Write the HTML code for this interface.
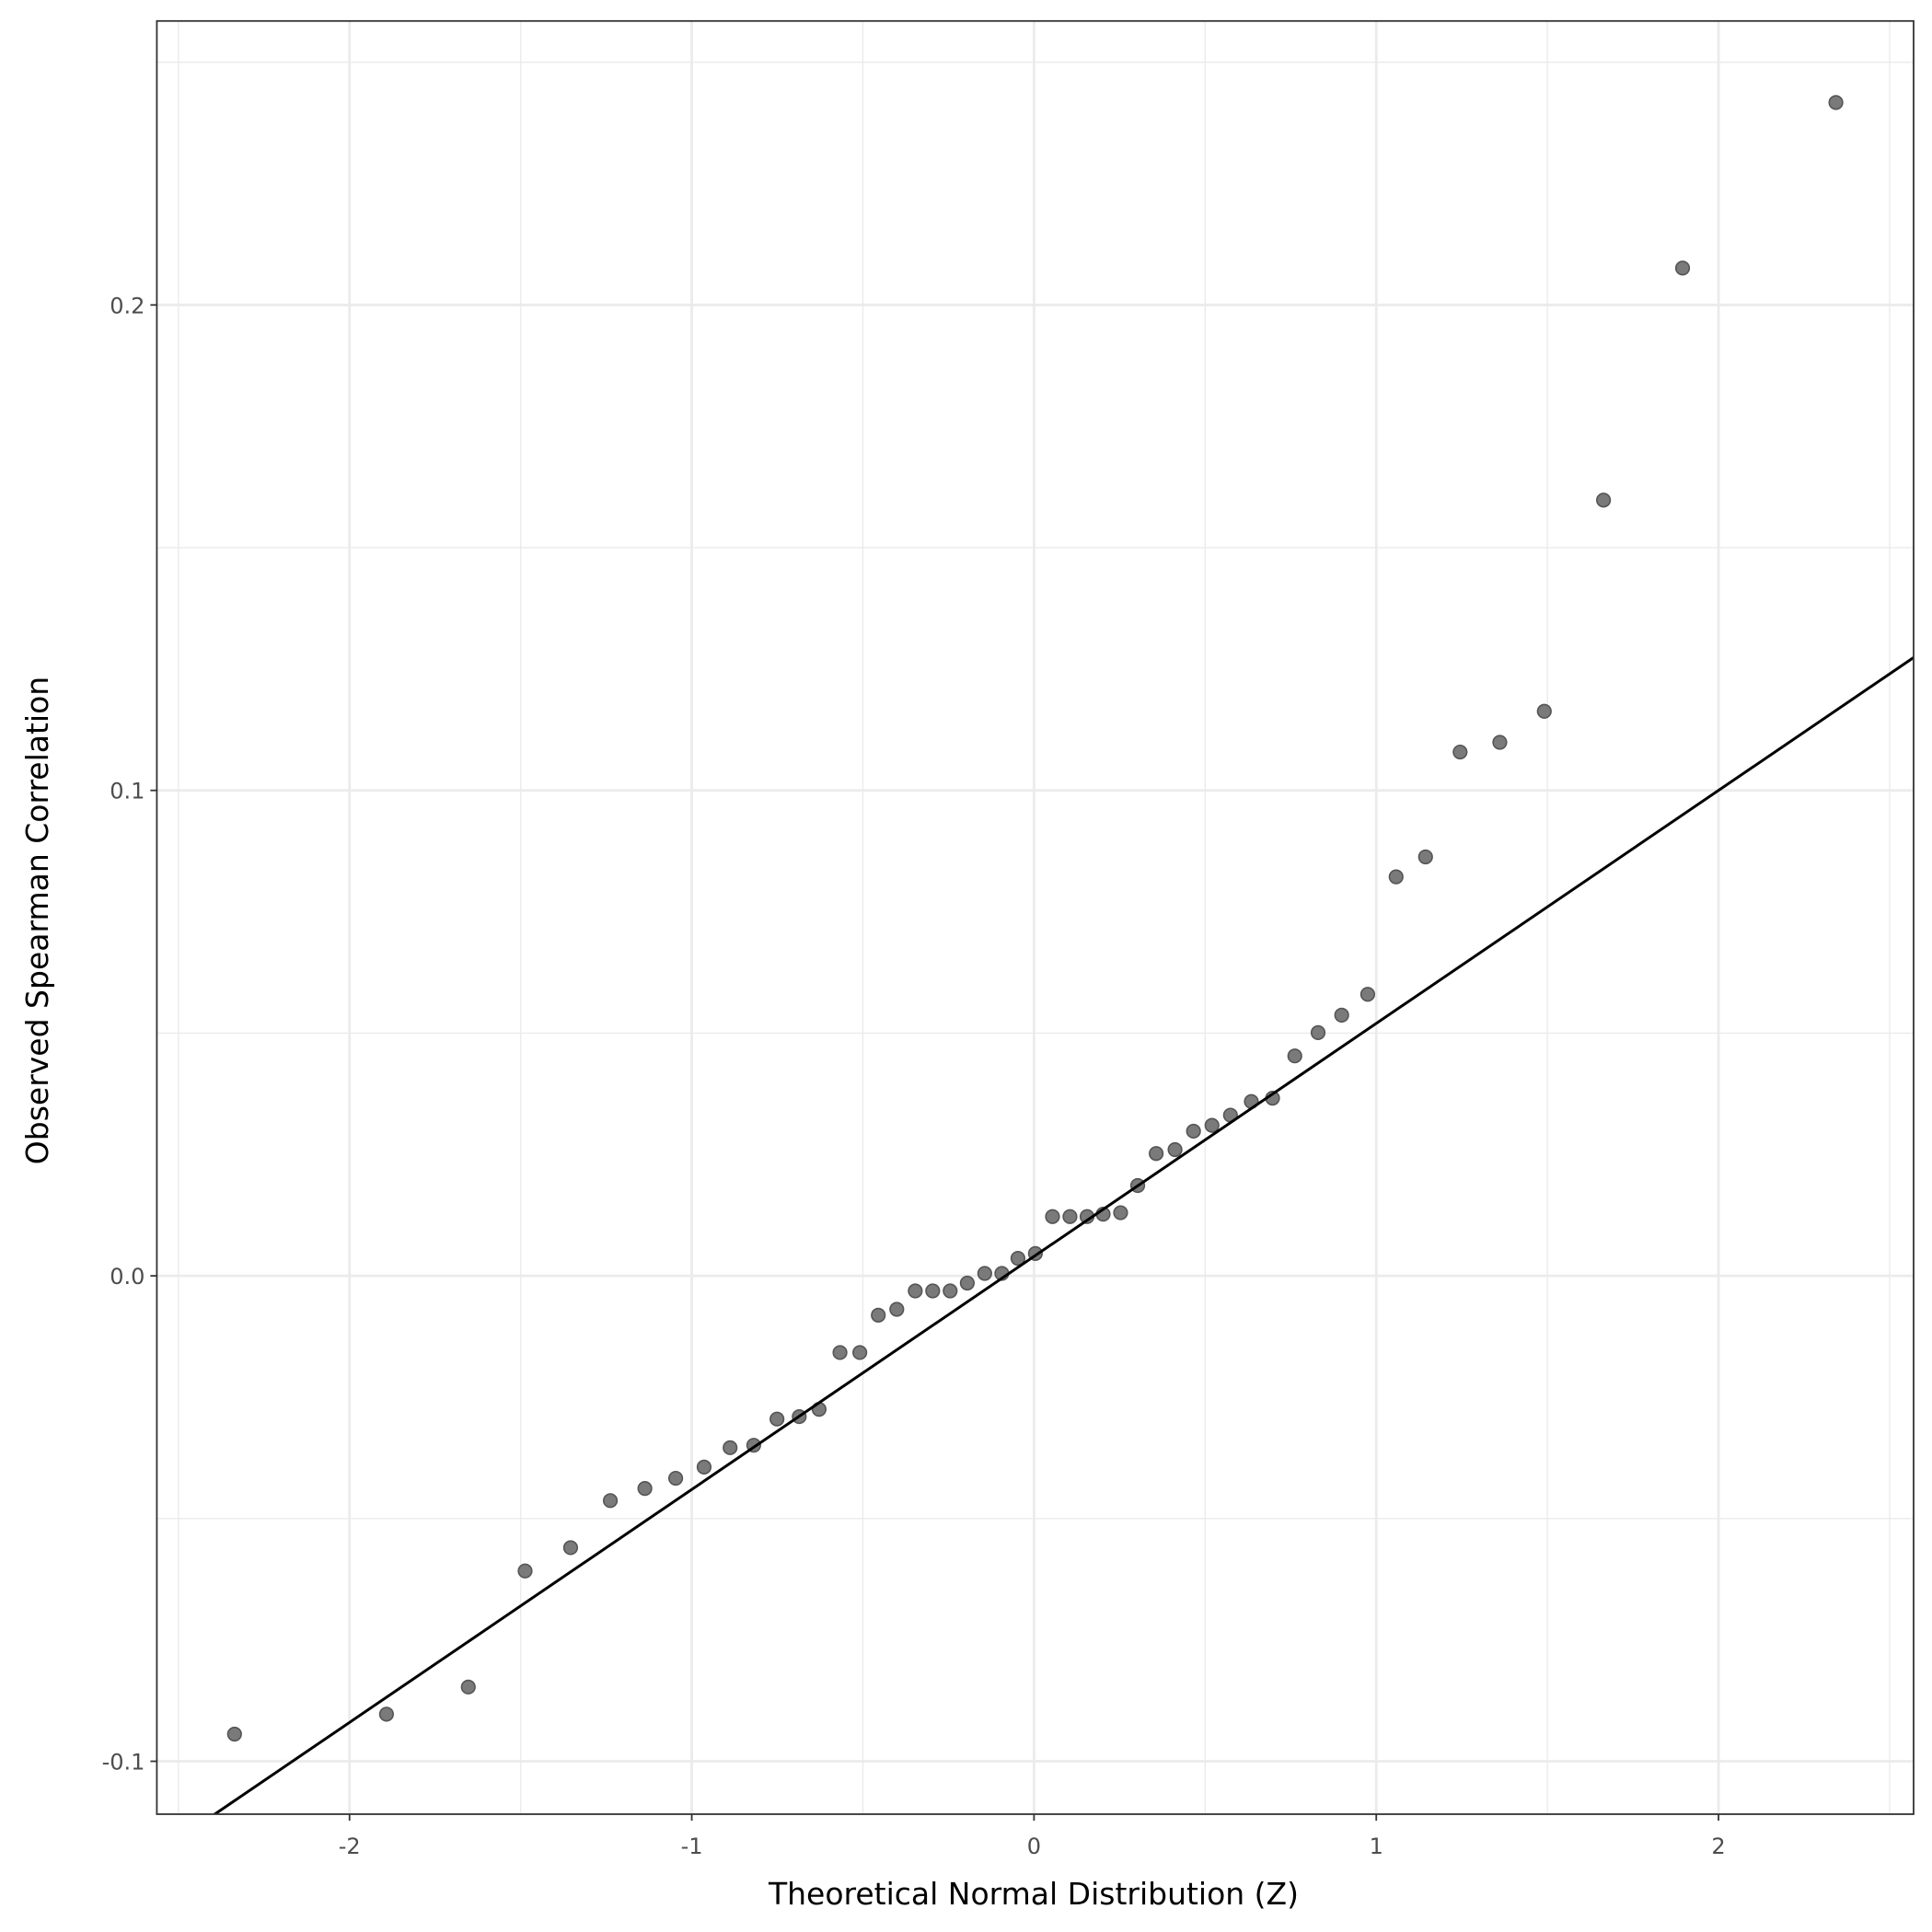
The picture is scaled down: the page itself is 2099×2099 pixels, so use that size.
<!DOCTYPE html>
<html><head><meta charset="utf-8"><style>
html,body{margin:0;padding:0;background:#fff}
svg{display:block}
text{font-family:"DejaVu Sans","Liberation Sans",sans-serif}
</style></head><body>
<svg id="chart" width="2099" height="2099" viewBox="0 0 2099 2099">
<rect x="0" y="0" width="2099" height="2099" fill="#fff"/>
<g id="grid"></g>
<g id="pts"></g>
<g id="ref"></g>
<rect x="170.4" y="22.8" width="1908.6" height="1948.2" fill="none" stroke="#333" stroke-width="1.8"/>
<g id="axes"></g>
<text x="1123" y="2069" font-size="33" text-anchor="middle" fill="#000">Theoretical Normal Distribution (Z)</text>
<text x="0" y="0" font-size="33" text-anchor="middle" fill="#000" transform="translate(52,1000) rotate(-90)">Observed Spearman Correlation</text>
</svg>
<script>
const zValues=[-2.336,-1.892,-1.653,-1.487,-1.354,-1.238,-1.137,-1.047,-0.964,-0.888,-0.819,-0.751,-0.686,-0.628,-0.567,-0.509,-0.455,-0.401,-0.347,-0.296,-0.245,-0.195,-0.144,-0.094,-0.047,0.004,0.054,0.105,0.155,0.202,0.253,0.303,0.357,0.412,0.466,0.520,0.574,0.635,0.697,0.762,0.830,0.899,0.975,1.058,1.144,1.245,1.361,1.491,1.664,1.895,2.343];
const corrValues=[-0.0944,-0.0903,-0.0847,-0.0608,-0.0560,-0.0463,-0.0438,-0.0417,-0.0394,-0.0354,-0.0349,-0.0295,-0.0290,-0.0275,-0.0158,-0.0158,-0.0081,-0.0069,-0.0031,-0.0031,-0.0031,-0.0015,0.0005,0.0005,0.0036,0.0046,0.0122,0.0122,0.0122,0.0127,0.0130,0.0186,0.0252,0.0260,0.0298,0.0310,0.0331,0.0359,0.0366,0.0453,0.0501,0.0537,0.0580,0.0822,0.0863,0.1079,0.1099,0.1163,0.1598,0.2076,0.2417];
const xTicks=[-2,-1,0,1,2];
const xTickLabels=["-2","-1","0","1","2"];
const yTicks=[-0.1,0,0.1,0.2];
const yTickLabels=["-0.1","0.0","0.1","0.2"];
const xMinor=[-2.5,-1.5,-0.5,0.5,1.5,2.5];
const yMinor=[-0.05,0.05,0.15,0.25];
const refIntercept=0.004;
const refSlope=0.048;
const L=170.4,R=2079,T=22.8,B=1971;
const xMin=-2.563,xMax=2.570,yMin=-0.1109,yMax=0.2585;
const sx=v=>L+(v-xMin)/(xMax-xMin)*(R-L);
const sy=v=>B-(v-yMin)/(yMax-yMin)*(B-T);
const NS="http://www.w3.org/2000/svg";
function mk(tag,attrs,parent){const e=document.createElementNS(NS,tag);for(const k in attrs)e.setAttribute(k,attrs[k]);parent.appendChild(e);return e;}
const grid=document.getElementById('grid'),axes=document.getElementById('axes'),pts=document.getElementById('pts'),ref=document.getElementById('ref');
xMinor.forEach(v=>{const e=mk('line',{x1:sx(v),x2:sx(v),y1:T,y2:B,stroke:'#ebebeb','stroke-width':1.4},grid);

});
yMinor.forEach(v=>{const e=mk('line',{x1:L,x2:R,y1:sy(v),y2:sy(v),stroke:'#ebebeb','stroke-width':1.4},grid);

});
xTicks.forEach((v,i)=>{const g=mk('line',{x1:sx(v),x2:sx(v),y1:T,y2:B,stroke:'#ebebeb','stroke-width':2.8},grid);


const t=mk('line',{x1:sx(v),x2:sx(v),y1:B,y2:B+7,stroke:'#333','stroke-width':1.8},axes);


const l=mk('text',{x:sx(v),y:B+43,'font-size':24,'text-anchor':'middle',fill:'#4d4d4d'},axes);l.textContent=xTickLabels[i];

});
yTicks.forEach((v,i)=>{const g=mk('line',{x1:L,x2:R,y1:sy(v),y2:sy(v),stroke:'#ebebeb','stroke-width':2.8},grid);


const t=mk('line',{x1:L-7,x2:L,y1:sy(v),y2:sy(v),stroke:'#333','stroke-width':1.8},axes);


const l=mk('text',{x:L-13,y:sy(v)+9,'font-size':24,'text-anchor':'end',fill:'#4d4d4d'},axes);l.textContent=yTickLabels[i];

});
zValues.forEach((z,i)=>{const c=mk('circle',{cx:sx(z),cy:sy(corrValues[i]),r:7.3,fill:'#7a7a7a',stroke:'#555','stroke-width':1.6},pts);

});
const xa=xMin,xb=xMax;
const ln=mk('line',{x1:sx(xa),y1:sy(refIntercept+refSlope*xa),x2:sx(xb),y2:sy(refIntercept+refSlope*xb),stroke:'#000','stroke-width':3},ref);


const cp=mk('clipPath',{id:'clip'},document.getElementById('chart'));
mk('rect',{x:L,y:T,width:R-L,height:B-T},cp);
ref.setAttribute('clip-path','url(#clip)');
</script>
</body></html>
